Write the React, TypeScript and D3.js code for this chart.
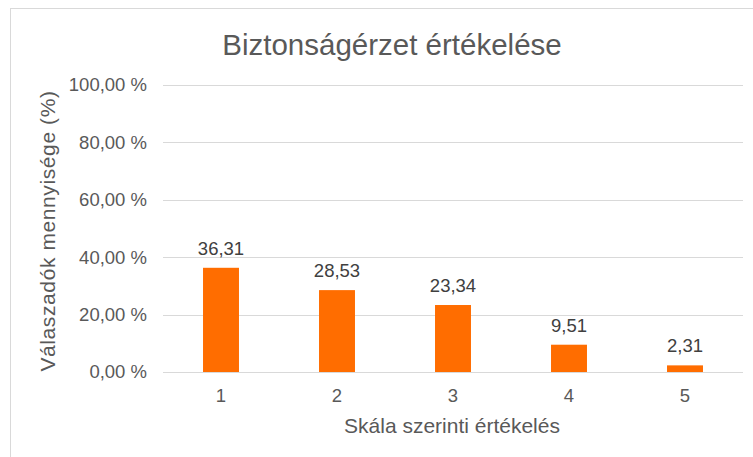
import React from 'react';
import * as d3 from 'd3';

const categories = ['1', '2', '3', '4', '5'];
const values = [36.31, 28.53, 23.34, 9.51, 2.31];
const yTicks = [0, 20, 40, 60, 80, 100];

const fmt = (v: number) => v.toFixed(2).replace('.', ',');

export default function App() {
  const width = 753;
  const height = 457;
  const plotLeft = 163;
  const plotRight = 743;
  const plotTop = 85;
  const plotBottom = 372;

  const x = d3.scaleBand<string>().domain(categories).range([plotLeft, plotRight]).paddingInner(0.69).paddingOuter(0.345);
  const y = d3.scaleLinear().domain([0, 100]).range([plotBottom, plotTop]);

  const font = '"Liberation Sans", Arial, sans-serif';
  const textColor = '#595959';

  return (
    <svg width={width} height={height} style={{ position: 'absolute', left: 0, top: 0, fontFamily: font }}>
      <rect x={0} y={0} width={width} height={height} fill="#fff" />
      <rect x={10.5} y={8.5} width={760} height={470} fill="#fff" stroke="#d9d9d9" strokeWidth={1} />
      <text x={392} y={55} textAnchor="middle" fontSize={29.5} fill={textColor}>
        Biztonságérzet értékelése
      </text>
      {yTicks.map(t => (
        <g key={t}>
          <line x1={plotLeft} x2={plotRight} y1={Math.round(y(t)) + 0.5} y2={Math.round(y(t)) + 0.5} stroke="#d9d9d9" strokeWidth={1} />
          <text x={147} y={y(t)} dy="0.35em" textAnchor="end" fontSize={18.5} fill={textColor}>
            {fmt(t)} %
          </text>
        </g>
      ))}
      {categories.map((c, i) => (
        <g key={c}>
          <rect x={x(c)} y={y(values[i])} width={x.bandwidth()} height={plotBottom - y(values[i])} fill="#ff6d00" />
          <text x={(x(c) || 0) + x.bandwidth() / 2} y={y(values[i]) - 13} textAnchor="middle" fontSize={18.5} fill="#404040">
            {fmt(values[i])}
          </text>
          <text x={(x(c) || 0) + x.bandwidth() / 2} y={plotBottom + 30} textAnchor="middle" fontSize={18.5} fill={textColor}>
            {c}
          </text>
        </g>
      ))}
      <text x={452} y={433} textAnchor="middle" fontSize={21} fill={textColor}>
        Skála szerinti értékelés
      </text>
      <text transform={`translate(55, 231) rotate(-90)`} textAnchor="middle" fontSize={21} letterSpacing={0.6} fill={textColor}>
        Válaszadók mennyisége (%)
      </text>
    </svg>
  );
}
